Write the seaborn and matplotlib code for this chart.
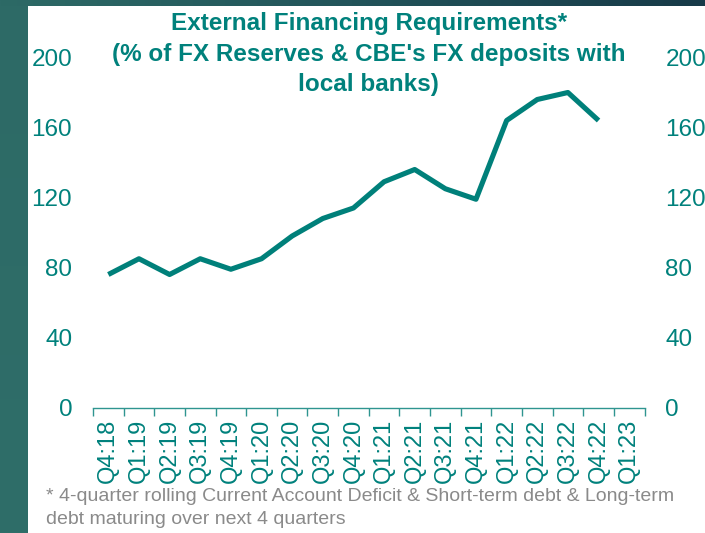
import numpy as np
import pandas as pd
import matplotlib
matplotlib.use("Agg")
import matplotlib.pyplot as plt
import seaborn as sns

# Quarterly external financing requirements, % of FX reserves
quarters = ["Q4:18", "Q1:19", "Q2:19", "Q3:19", "Q4:19", "Q1:20", "Q2:20",
            "Q3:20", "Q4:20", "Q1:21", "Q2:21", "Q3:21", "Q4:21", "Q1:22",
            "Q2:22", "Q3:22", "Q4:22", "Q1:23"]
efr_pct = [76, 85, 76, 85, 79, 85, 98, 108, 114, 129, 136, 125, 119,
           164, 176, 180, 164, np.nan]
y_ticks = [0, 40, 80, 120, 160, 200]

title_text = ("External Financing Requirements*\n"
              "(% of FX Reserves & CBE's FX deposits with\n"
              "local banks)")
note_text = ("* 4-quarter rolling Current Account Deficit & Short-term debt & Long-term\n"
             "debt maturing over next 4 quarters")

TEAL = "#00817c"
LINE = "#00807a"
SPINE = "#2f9590"
GREY = "#8a8a8a"

sns.set_theme(style="white")
plt.rcParams["font.family"] = ["Liberation Sans", "DejaVu Sans"]

df = pd.DataFrame({"pos": np.arange(len(quarters)), "quarter": quarters,
                   "value": efr_pct})

W, H = 705, 533
fig = plt.figure(figsize=(W / 100, H / 100), dpi=100)

# Dark slide frame: teal strip on the left, darker band along the top
bg = fig.add_axes([0, 0, 1, 1], zorder=-10)
bg.axis("off")
left_grad = np.linspace(0, 1, 256).reshape(-1, 1)
bg.imshow(left_grad, extent=[0, 28, H, 0], aspect="auto",
          cmap=matplotlib.colors.LinearSegmentedColormap.from_list(
              "l", ["#2d6a66", "#2f6e69"]))
top_grad = np.linspace(0, 1, 256).reshape(1, -1)
bg.imshow(top_grad, extent=[0, W, 6, 0], aspect="auto",
          cmap=matplotlib.colors.LinearSegmentedColormap.from_list(
              "t", ["#2d6a66", "#22545a", "#173a48"]))
bg.set_xlim(0, W)
bg.set_ylim(H, 0)

ax_l, ax_r = 93 / W, 644.5 / W
ax_b, ax_t = 1 - 407.5 / H, 1 - 57.5 / H
ax = fig.add_axes([ax_l, ax_b, ax_r - ax_l, ax_t - ax_b])
ax.patch.set_alpha(0)

sns.lineplot(data=df, x="pos", y="value", ax=ax, color=LINE, linewidth=3.7,
             solid_joinstyle="round", solid_capstyle="butt")

ax.set_xlim(-0.5, len(quarters) - 0.5)
ax.set_ylim(0, 200)
ax.set_xlabel("")
ax.set_ylabel("")

# Category boundaries carry the tick marks, centres carry the labels
ax.set_xticks(np.arange(len(quarters) + 1) - 0.5)
ax.set_xticklabels([])
ax.set_xticks(np.arange(len(quarters)), minor=True)
ax.set_xticklabels(quarters, minor=True, rotation=90, color=TEAL,
                   fontsize=17, va="top", ha="center")
ax.tick_params(axis="x", which="major", direction="out", length=6,
               width=1, color=SPINE, bottom=True)
ax.tick_params(axis="x", which="minor", length=0, pad=8)

ax.set_yticks(y_ticks)
ax.set_yticklabels([str(v) for v in y_ticks], color=TEAL, fontsize=17.5)
ax.tick_params(axis="y", length=0, pad=15)

for s in ["left", "right", "top"]:
    ax.spines[s].set_visible(False)
ax.spines["bottom"].set_color(SPINE)
ax.spines["bottom"].set_linewidth(1)
ax.grid(False)

ax2 = ax.twinx()
ax2.set_ylim(0, 200)
ax2.set_yticks(y_ticks)
ax2.set_yticklabels([str(v) for v in y_ticks], color=TEAL, fontsize=17.5)
ax2.tick_params(axis="y", length=0, pad=15)
for s in ax2.spines.values():
    s.set_visible(False)
ax2.grid(False)

fig.text((ax_l + ax_r) / 2, 1 - 12 / H, title_text, ha="center", va="top",
         color=TEAL, fontsize=17.5, fontweight="bold", linespacing=1.42)

fig.text(46 / W, 1 - 488 / H, note_text, ha="left", va="top", color=GREY,
         fontsize=14, linespacing=1.5)

fig.savefig("out.png", dpi=100)
